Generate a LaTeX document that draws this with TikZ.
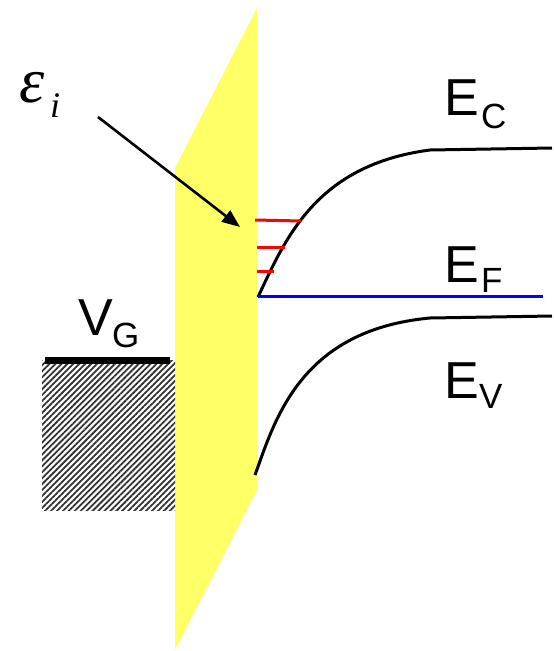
\documentclass[tikz,border=0pt]{standalone}
\usepackage{fontspec}
\setmainfont{Liberation Sans}
\newfontfamily\serifit[ItalicFont={Liberation Serif Italic}]{Liberation Serif}
\usetikzlibrary{patterns.meta,arrows.meta}
\definecolor{oxide}{RGB}{255,255,102}
\begin{document}
\begin{tikzpicture}[x=1pt,y=-1pt,
  big/.style={font=\fontsize{52}{52}\selectfont,inner sep=0pt,anchor=base west},
  sub/.style={font=\fontsize{35}{35}\selectfont,inner sep=0pt,anchor=base west},
  band/.style={line width=3pt,black},
  trap/.style={line width=3pt,red}]
\useasboundingbox (0,0) rectangle (554,651);
% oxide
\fill[oxide] (257,8) -- (257,490) -- (175,650) -- (175,168) -- cycle;
% gate
\fill[pattern={Lines[angle=45,distance=4.2pt,line width=1.8pt]},pattern color=black!80] (42,360) rectangle (175,510);
\draw[line width=7pt] (45,360) -- (170,360);
% bands
\draw[band] (258,297) .. controls (285,240) and (315,165) .. (430,150) -- (552,148);
\draw[band] (255,475) .. controls (275,420) and (300,330) .. (430,318) -- (552,316);
\draw[line width=3pt,blue] (258,296) -- (543,296);
% traps
\draw[trap] (255,220) -- (301,221);
\draw[trap] (257,247) -- (285,247);
\draw[trap] (257,271) -- (274,271);
% labels
\node[big] (ec) at (444,115) {E};
\node[sub] (ecs) at (481,128) {C};
\node[big] (ef) at (444,282) {E};
\node[sub] (efs) at (481,292) {F};
\node[big] (ev) at (444,398) {E};
\node[sub] (evs) at (479,408) {V};
\node[big] (vg) at (78,335) {V};
\node[sub] (vgs) at (112,347) {G};
\node[font=\fontsize{64}{64}\selectfont\serifit\itshape,inner sep=0pt,anchor=base west] (eps) at (19,102) {ε};
\node[font=\fontsize{36}{36}\selectfont\serifit\itshape,inner sep=0pt,anchor=base west] (epsi) at (50,117) {i};
\coordinate (a1) at (98,117);
\coordinate (a2) at (240,227);
\draw[line width=2.6pt,-{Triangle[length=18pt,width=14pt]}] (a1) -- (a2);
\end{tikzpicture}
\end{document}
